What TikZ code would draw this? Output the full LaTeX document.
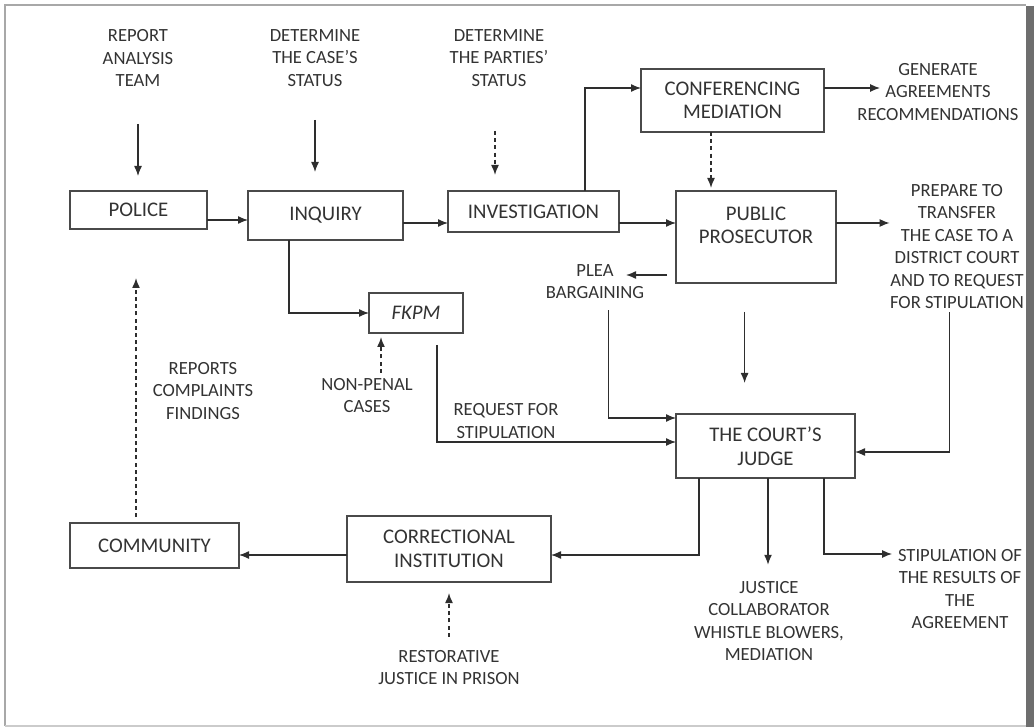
\documentclass[tikz,border=0pt]{standalone}
\usepackage{fontspec}
\setmainfont{Carlito}
\usetikzlibrary{arrows.meta}
\definecolor{txtgray}{HTML}{333333}
\definecolor{boxgray}{HTML}{4A4A4A}
\definecolor{linegray}{HTML}{2E2E2E}
\definecolor{framegray}{HTML}{A8A8A8}
\definecolor{edgegray}{HTML}{6E6E6E}

\tikzset{
  box/.style={draw=boxgray, line width=0.6pt, inner sep=0pt, outer sep=0pt,
    align=center, text=txtgray, font=\fontsize{10.4}{11.75}\selectfont},
  lbl/.style={inner sep=0pt, align=center, text=txtgray,
    font=\fontsize{9.3}{11.25}\selectfont},
  arr/.style={->, draw=linegray, line width=0.65pt},
  darr/.style={arr, line width=0.75pt, dash pattern=on 2pt off 1.6pt},
}

\begin{document}
\begin{tikzpicture}[x=0.5pt,y=-0.5pt,>={Latex[length=5pt,width=4pt]}]
        % page and frame
        \useasboundingbox (0,0) rectangle (1034,727);
        \draw[framegray, line width=0.9pt] (5,726) -- (5,5) -- (1026,5);
        \draw[framegray!60, line width=0.6pt] (5,726) -- (1026,726);
        \fill[edgegray] (1026,6) rectangle (1034,727);

        % the boxes
        \node[box, minimum width=68.5pt, minimum height=19pt] (police) at (138.5,210) {POLICE};
        \node[box, minimum width=77.5pt, minimum height=24.5pt] (inquiry) at (325.5,215.5) {INQUIRY};
        \node[box, minimum width=85.5pt, minimum height=20.5pt] (invest) at (533.5,211.5) {INVESTIGATION};
        \node[box, minimum width=91.5pt, minimum height=31.5pt] (conf) at (732.5,100.5) {CONFERENCING\\MEDIATION};
        \node[box, minimum width=80pt, minimum height=46pt] (pros) at (756,237) {PUBLIC\\PROSECUTOR\\~};
        \node[box, minimum width=47pt, minimum height=20pt, font=\fontsize{10.4}{11.75}\selectfont\itshape] (fkpm) at (416,313) {FKPM};
        \node[box, minimum width=89.5pt, minimum height=32pt] (judge) at (765.5,446) {THE COURT’S\\JUDGE};
        \node[box, minimum width=102pt, minimum height=33pt] (corr) at (449,549) {CORRECTIONAL\\INSTITUTION};
        \node[box, minimum width=84.5pt, minimum height=22.5pt] (community) at (154.5,545.5) {COMMUNITY};

        % the free texts
        \node[lbl] (team) at (138,58) {REPORT\\ANALYSIS\\TEAM};
        \node[lbl] (casest) at (315,58) {DETERMINE\\THE CASE’S\\STATUS};
        \node[lbl] (partst) at (499,58) {DETERMINE\\THE PARTIES’\\STATUS};
        \node[lbl] (gen) at (938,92) {GENERATE\\AGREEMENTS\\RECOMMENDATIONS};
        \node[lbl] (prep) at (957,246.5) {PREPARE TO\\TRANSFER\\THE CASE TO A\\DISTRICT COURT\\AND TO REQUEST\\FOR STIPULATION};
        \node[lbl] (plea) at (595,281.5) {PLEA\\BARGAINING};
        \node[lbl] (nonpenal) at (367,395.5) {NON-PENAL\\CASES};
        \node[lbl] (reports) at (203,391) {REPORTS\\COMPLAINTS\\FINDINGS};
        \node[lbl] (request) at (506,421) {REQUEST FOR\\STIPULATION};
        \node[lbl] (justice) at (769,621) {JUSTICE\\COLLABORATOR\\WHISTLE BLOWERS,\\MEDIATION};
        \node[lbl] (stip) at (960,589) {STIPULATION OF\\THE RESULTS OF\\THE\\AGREEMENT};
        \node[lbl] (restor) at (449,667.5) {RESTORATIVE\\JUSTICE IN PRISON};

        % arrows from the top texts
        \draw[arr, shorten <=18.5pt, shorten >=7.5pt] (team.south) -- (team.south |- police.north);
        \draw[arr, shorten <=16.5pt, shorten >=9.5pt] (casest.south) -- (casest.south |- inquiry.north);
        \draw[darr, shorten <=22pt, shorten >=8pt] ([xshift=-2pt]partst.south) -- ([xshift=-2pt]partst.south |- invest.north);

        % main line
        \draw[arr] ([yshift=-5pt]police.east) -- ([yshift=-5pt]police.east -| inquiry.west);
        \draw[arr] ([yshift=-3.75pt]inquiry.east) -- ([yshift=-3.75pt]inquiry.east -| invest.west);
        \draw[arr] ([yshift=-5.75pt]invest.east) -- ([yshift=-5.75pt]invest.east -| pros.west);
        \draw[arr] ([xshift=25.75pt]invest.north) |- ([yshift=6.25pt]conf.west);
        \draw[arr, shorten >=-11.5pt] ([yshift=6.25pt]conf.east) -- ([yshift=6.25pt]conf.east -| gen.west);
        \draw[darr, shorten >=1.5pt] ([xshift=-10.75pt]conf.south) -- ([xshift=-10.75pt]conf.south |- pros.north);
        \draw[arr] ([yshift=7pt]pros.east) -- ([yshift=7pt]pros.east -| prep.west);
        \draw[arr, shorten <=4.5pt, shorten >=-9.25pt] ([yshift=-19pt]pros.west) -- ([yshift=-19pt]pros.west -| plea.east);

        % into the judge
        \draw[arr, shorten <=5.5pt] ([xshift=6.75pt]plea.south) |- ([yshift=14pt]judge.west);
        \draw[arr, shorten <=14.5pt, shorten >=15.5pt] ([xshift=-5.7pt]pros.south) -- ([xshift=-5.7pt]pros.south |- judge.north);
        \draw[arr, shorten <=1.5pt] ([xshift=-3.65pt]prep.south) |- ([yshift=-3pt]judge.east);
        \draw[arr, shorten <=6pt] ([xshift=10.5pt]fkpm.south) |- ([yshift=2pt]judge.west);

        % fkpm branch
        \draw[arr] ([xshift=-18.25pt]inquiry.south) |- (fkpm.west);
        \draw[darr, shorten <=2.5pt, shorten >=2pt] ([xshift=7pt]nonpenal.north) -- ([xshift=7pt]nonpenal.north |- fkpm.south);

        % out of the judge
        \draw[arr] ([xshift=-33.25pt]judge.south) |- ([yshift=-3pt]corr.east);
        \draw[arr, shorten >=8pt] ([xshift=1.25pt]judge.south) -- ([xshift=1.25pt]judge.south |- justice.north);
        \draw[arr, shorten >=2.75pt] ([xshift=29.25pt]judge.south) |- ([yshift=17.5pt]stip.west);

        % back to the police
        \draw[arr] ([yshift=-3pt]corr.west) -- ([yshift=-3pt]corr.west -| community.east);
        \draw[darr, shorten <=6.5pt, shorten >=5.5pt] (restor.north) -- (restor.north |- corr.south);
        \draw[darr, shorten <=3pt, shorten >=24.5pt] ([xshift=-9.25pt]community.north) -- ([xshift=-9.25pt]community.north |- police.south);
\end{tikzpicture}
\end{document}
